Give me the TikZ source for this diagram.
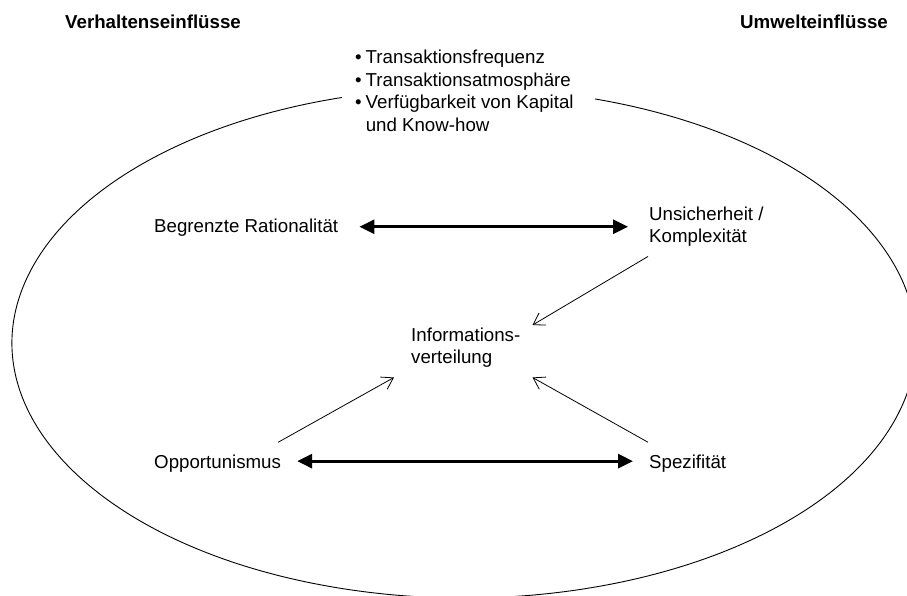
\documentclass[tikz,border=0pt]{standalone}
\usepackage{fontspec}
\setmainfont{Liberation Sans}
\usetikzlibrary{arrows.meta}
\begin{document}
\begin{tikzpicture}[x=1pt,y=-1pt,
  lbl/.style={inner sep=0pt, font=\fontsize{18.7}{22.5}\selectfont},
  head/.style={inner sep=0pt, font=\fontsize{18.7}{22.5}\selectfont\bfseries},
  bold link/.style={line width=3pt,
    {Triangle[length=15pt,width=14pt]}-{Triangle[length=15pt,width=14pt]}},
  thin link/.style={line width=0.8pt, -{Straight Barb[length=11pt,width=14pt]}},
  ring/.style={line width=0.9pt}]
\useasboundingbox (0,0) rectangle (907,596);

% the enclosing oval, open at the top where the list of factors sits
\begin{scope}
  \clip (0,0) rectangle (907,596);
  \draw[ring] (464,343) ++(286.85:452 and 255)
    arc[start angle=286.85, end angle=614.34, x radius=452, y radius=255];
\end{scope}

% headings
\node[head, anchor=base west] (vh) at (65,29) {Verhaltenseinflüsse};
\node[head, anchor=base east] (uw) at (888,29) {Umwelteinflüsse};

% list of further factors
\node[lbl, anchor=base west] (list) at (355,64)
  {\begin{tabular}[t]{@{}l@{\hspace{4pt}}l@{}}
   •&Transaktionsfrequenz\\
   •&Transaktionsatmosphäre\\
   •&Verfügbarkeit von Kapital\\
    &und Know-how
   \end{tabular}};

% factors
\node[lbl, anchor=base west] (br) at (154,233) {Begrenzte Rationalität};
\node[lbl, anchor=base west] (uk) at (649,220)
  {\begin{tabular}[t]{@{}l@{}}Unsicherheit /\\Komplexität\end{tabular}};
\node[lbl, anchor=base west] (info) at (411,341)
  {\begin{tabular}[t]{@{}l@{}}Informations-\\verteilung\end{tabular}};
\node[lbl, anchor=base west] (op) at (154,468) {Opportunismus};
\node[lbl, anchor=base west] (sp) at (649,468) {Spezifität};

% mutual relations
\draw[bold link, shorten <=21pt, shorten >=21pt] (br.east |- uk.west) -- (uk.west);
\draw[bold link, shorten <=16pt, shorten >=16pt]
  ([shift={(0,-2)}]op.east) -- ([shift={(0,-2)}]op.east -| sp.west);

% influences on the information distribution
\draw[thin link] ([shift={(-1,7)}]uk.south west) -- ([shift={(12,0)}]info.north east);
\draw[thin link] ([shift={(-3,-12)}]op.north east) -- ([shift={(-17,7)}]info.south west);
\draw[thin link] ([shift={(-1,-12)}]sp.north west) -- ([shift={(12,7)}]info.south east);
\end{tikzpicture}
\end{document}
